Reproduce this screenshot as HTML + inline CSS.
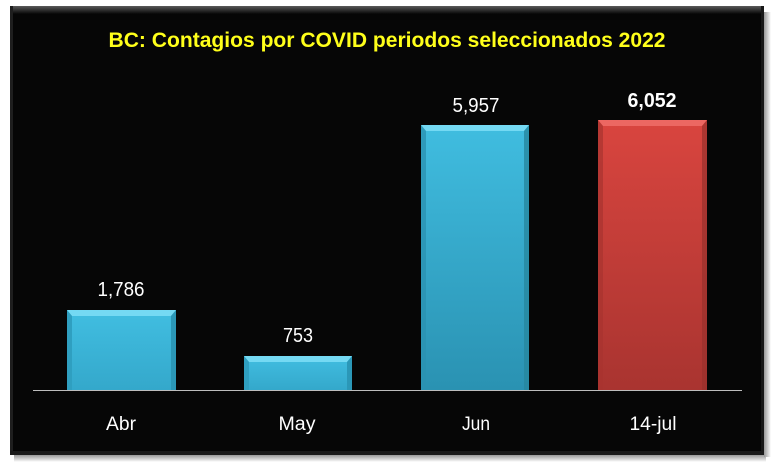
<!DOCTYPE html>
<html><head><meta charset="utf-8"><style>
html,body{margin:0;padding:0;background:#fff;}
svg{display:block;}
</style></head><body>
<svg width="774" height="472" viewBox="0 0 774 472" xmlns="http://www.w3.org/2000/svg">
<defs>
<linearGradient id="topbev" x1="0" y1="0" x2="0" y2="1">
<stop offset="0" stop-color="#5a5a5a"/><stop offset="1" stop-color="#060606"/>
</linearGradient>
<linearGradient id="cy" x1="0" y1="0" x2="0" y2="1">
<stop offset="0" stop-color="#40bde0"/><stop offset="1" stop-color="#2a92b2"/>
</linearGradient>
<linearGradient id="cyS" x1="0" y1="0" x2="0" y2="1">
<stop offset="0" stop-color="#41bee1"/><stop offset="1" stop-color="#34a8cb"/>
</linearGradient>
<linearGradient id="rd" x1="0" y1="0" x2="0" y2="1">
<stop offset="0" stop-color="#d9453f"/><stop offset="1" stop-color="#a93430"/>
</linearGradient>
<linearGradient id="shadowB" x1="0" y1="0" x2="0" y2="1">
<stop offset="0" stop-color="#999"/><stop offset="1" stop-color="#fff"/>
</linearGradient>
<linearGradient id="shadowR" x1="0" y1="0" x2="1" y2="0">
<stop offset="0" stop-color="#999"/><stop offset="1" stop-color="#fff"/>
</linearGradient>
</defs>
<rect x="14" y="455" width="752" height="7" fill="url(#shadowB)"/>
<rect x="764" y="12" width="7" height="445" fill="url(#shadowR)"/>
<rect x="10" y="6" width="754" height="449" fill="#060606"/>
<rect x="10" y="6" width="754" height="8" fill="url(#topbev)"/>
<rect x="10" y="6" width="3" height="449" fill="#1e1e1e"/>
<rect x="761" y="6" width="3" height="449" fill="#181818"/>
<rect x="10" y="451" width="754" height="4" fill="#1a1a1a"/>

<text x="387" y="47" text-anchor="middle" font-family="Liberation Sans, sans-serif" font-weight="bold" font-size="21" fill="#ffff1a" textLength="557" lengthAdjust="spacingAndGlyphs">BC: Contagios por COVID periodos seleccionados 2022</text>

<rect x="67" y="310" width="109" height="80" fill="url(#cyS)"/>
<polygon points="67,310 176,310 171,316 72,316" fill="#74d9f3"/>
<polygon points="67,310 72,316 72,390 67,390" fill="#2f9fc0"/>
<polygon points="176,310 171,316 171,390 176,390" fill="#2b97b7"/>

<rect x="244" y="356" width="108" height="34" fill="url(#cyS)"/>
<polygon points="244,356 352,356 347,362 249,362" fill="#74d9f3"/>
<polygon points="244,356 249,362 249,390 244,390" fill="#2f9fc0"/>
<polygon points="352,356 347,362 347,390 352,390" fill="#2b97b7"/>

<rect x="421" y="125" width="108" height="265" fill="url(#cy)"/>
<polygon points="421,125 529,125 524,131 426,131" fill="#74d9f3"/>
<polygon points="421,125 426,131 426,390 421,390" fill="#2a92b2" opacity="0.8"/>
<polygon points="529,125 524,131 524,390 529,390" fill="#27879f" opacity="0.8"/>

<rect x="598" y="120" width="109" height="270" fill="url(#rd)"/>
<polygon points="598,120 707,120 702,126 603,126" fill="#ec6762"/>
<polygon points="598,120 603,126 603,390 598,390" fill="#a8332f" opacity="0.7"/>
<polygon points="707,120 702,126 702,390 707,390" fill="#98302c" opacity="0.7"/>

<line x1="33" y1="390.5" x2="742" y2="390.5" stroke="#bdbdbd" stroke-width="1"/>

<g font-family="Liberation Sans, sans-serif" font-size="20" fill="#fff" text-anchor="middle">
<text x="121" y="296" textLength="47" lengthAdjust="spacingAndGlyphs">1,786</text>
<text x="298" y="342" textLength="30" lengthAdjust="spacingAndGlyphs">753</text>
<text x="476" y="112" textLength="47" lengthAdjust="spacingAndGlyphs">5,957</text>
<text x="652" y="107" font-weight="bold" textLength="49" lengthAdjust="spacingAndGlyphs">6,052</text>
</g>
<g font-family="Liberation Sans, sans-serif" font-size="19" fill="#fff" text-anchor="middle">
<text x="121" y="430" textLength="30" lengthAdjust="spacingAndGlyphs">Abr</text>
<text x="297" y="430" textLength="37" lengthAdjust="spacingAndGlyphs">May</text>
<text x="476" y="430" textLength="28" lengthAdjust="spacingAndGlyphs">Jun</text>
<text x="653" y="430" textLength="47" lengthAdjust="spacingAndGlyphs">14-jul</text>
</g>
</svg>
</body></html>
